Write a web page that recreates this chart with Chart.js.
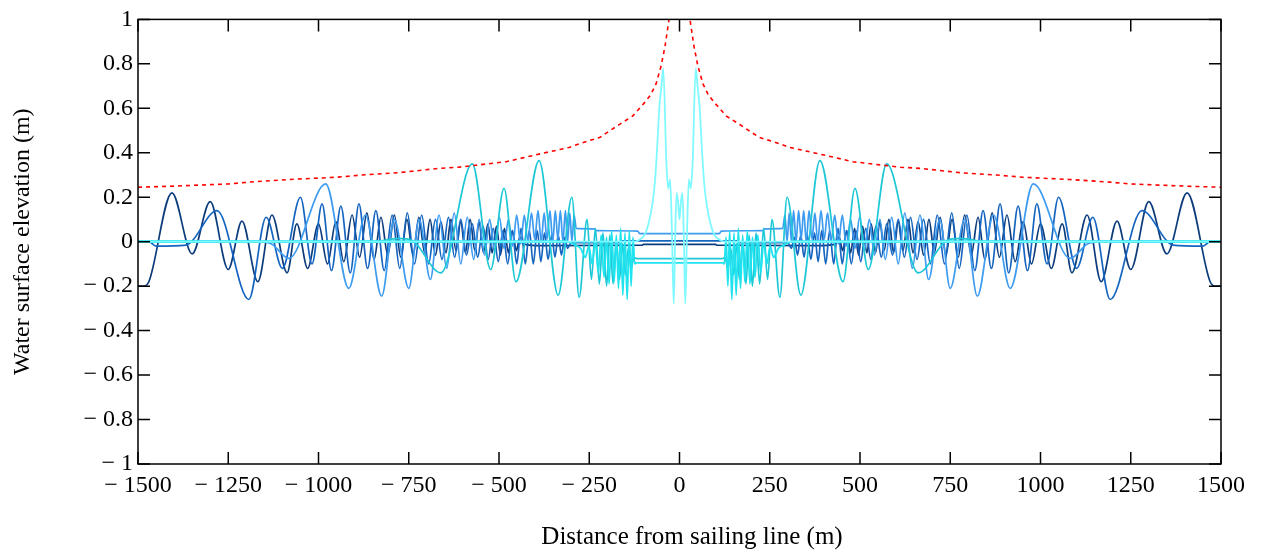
<!DOCTYPE html>
<html>
<head>
<meta charset="utf-8">
<script src="https://cdn.jsdelivr.net/npm/chart.js@4.4.1/dist/chart.umd.min.js"></script>
<style>
    html, body { margin: 0; padding: 0; background: #fff; }
    #wrap { width: 1263px; height: 552px; }
</style>
</head>
<body>
<div id="wrap"><canvas id="chart"></canvas></div>
<script>
// tick values / labels
const xTickValues = [-1500, -1250, -1000, -750, -500, -250, 0, 250, 500, 750, 1000, 1250, 1500];
const xTickLabels = ["\u2212 1500", "\u2212 1250", "\u2212 1000", "\u2212 750", "\u2212 500", "\u2212 250", "0", "250", "500", "750", "1000", "1250", "1500"];
const yTickValues = [-1, -0.8, -0.6, -0.4, -0.2, 0, 0.2, 0.4, 0.6, 0.8, 1];
const yTickLabels = ["\u2212 1", "\u2212 0.8", "\u2212 0.6", "\u2212 0.4", "\u2212 0.2", "0", "0.2", "0.4", "0.6", "0.8", "1"];

// every series is symmetric about the sailing line, so only the x >= 0 half is listed: [distance (m), elevation (m)]
const navyHalf = [
    [0, -0.012], [100, -0.012], [104, -0.016], [380, -0.018], [430, -0.012],
    [442, 0.02], [452, -0.04], [463, 0.05], [474, -0.05], [485, 0.06], [496, -0.06], [507, 0.07], [519, -0.05],
    [531, 0.08], [543, -0.05], [555, 0.09], [567, -0.04], [580, 0.1], [593, -0.05], [606, 0.09], [619, -0.04],
    [633, 0.1], [647, -0.05], [661, 0.09], [676, -0.06], [691, 0.1], [706, -0.05], [722, 0.11], [738, -0.06],
    [755, 0.1], [772, -0.07], [790, 0.12], [808, -0.06], [827, 0.11], [846, -0.08], [866, 0.13], [886, -0.07],
    [907, 0.12], [930, -0.09], [952, 0.09], [975, -0.1], [1000, 0.08], [1030, -0.12], [1060, 0.08], [1087, -0.14],
    [1129, 0.12], [1168, -0.18], [1212, 0.093], [1250, -0.125], [1300, 0.18], [1350, -0.055], [1406, 0.22],
    [1470, -0.18], [1485, -0.2], [1500, -0.2]
];
const blueHalf = [
    [0, 0.004], [160, 0.004], [166, -0.004], [300, -0.004],
    [310, -0.03], [318, 0.02], [327, -0.06], [336, 0.03], [345, -0.07], [354, 0.03], [364, -0.08], [374, 0.04],
    [384, -0.09], [394, 0.05], [405, -0.1], [416, 0.05], [427, -0.1], [439, 0.06], [451, -0.1], [463, 0.05],
    [476, -0.1], [489, 0.05], [502, -0.09], [516, 0.06], [530, -0.08], [544, 0.07], [559, -0.07], [574, 0.08],
    [590, -0.06], [606, 0.1], [623, -0.07], [640, 0.11], [658, -0.08], [676, 0.1], [695, -0.1], [714, 0.12],
    [734, -0.1], [754, 0.13], [775, -0.12], [796, 0.12], [818, -0.13], [841, 0.14], [864, -0.12], [888, 0.17],
    [912, -0.14], [938, 0.16], [964, -0.13], [990, 0.17], [1018, -0.1], [1050, 0.2], [1100, -0.12], [1145, 0.11],
    [1193, -0.26], [1281, 0.14], [1367, -0.015], [1450, -0.02], [1470, 0], [1500, 0]
];
const lightBlueHalf = [
    [0, 0.036], [110, 0.036], [116, 0.048], [230, 0.05], [236, 0.058], [286, 0.06],
    [292, 0.12], [298, 0.0], [304, 0.13], [310, 0.0], [316, 0.14], [323, 0.0], [330, 0.14], [337, 0.01],
    [344, 0.14], [351, 0.0], [359, 0.14], [367, 0.01], [375, 0.13], [383, 0.0], [392, 0.14], [401, 0.01],
    [410, 0.13], [420, 0.0], [430, 0.12], [440, -0.01], [451, 0.12], [462, -0.02], [474, 0.1], [486, -0.03],
    [499, 0.11], [512, -0.04], [526, 0.1], [540, -0.06], [555, 0.1], [570, -0.08], [588, 0.11], [606, -0.1],
    [624, 0.13], [645, -0.12], [666, 0.12], [690, -0.17], [721, 0.1], [750, -0.21], [790, 0.1], [825, -0.245],
    [870, 0.12], [916, -0.21], [980, 0.26], [1082, -0.075], [1130, -0.01], [1165, 0], [1500, 0]
];
const turquoiseHalf = [
    [0, -0.076], [118, -0.076], [126, -0.07], [134, -0.12], [142, -0.03], [150, -0.15], [158, -0.01], [166, -0.17],
    [175, 0.01], [184, -0.19], [193, 0.03], [202, -0.2], [212, 0.04], [222, -0.19], [233, 0.06], [244, -0.17],
    [256, 0.1], [278, -0.25], [298, 0.2], [336, -0.24], [389, 0.365], [453, -0.18], [486, 0.24], [523, -0.125],
    [574, 0.35], [661, -0.14], [740, 0.005], [777, 0.015], [852, 0], [1500, 0]
];
const cyanHalf = [
    [0, -0.095], [120, -0.095], [124, -0.1], [129, 0.02], [134, -0.2], [139, 0.05], [145, -0.26], [151, 0.04],
    [157, -0.24], [163, 0.06], [169, -0.21], [175, 0.03], [181, -0.18], [188, 0.05], [195, -0.19], [202, 0.02],
    [209, -0.16], [217, 0.03], [225, -0.14], [233, 0.0], [242, -0.1], [251, -0.02], [261, -0.07], [274, -0.03],
    [290, -0.015], [310, 0], [1500, 0]
];
const paleCyanHalf = [
    [0, 0.1], [4, 0.18], [8, 0.22], [12, 0.02], [16, -0.28], [21, 0.05], [26, 0.28], [31, 0.24], [36, 0.34],
    [45, 0.78], [50, 0.7], [56, 0.6], [62, 0.42], [68, 0.27], [75, 0.17], [86, 0.08], [97, 0.03], [110, 0.01],
    [125, 0], [1500, 0]
];
const envelopeHalf = [
    [20, 1.1], [29, 1.0], [40, 0.88], [51, 0.79], [65, 0.71], [80, 0.66], [100, 0.62], [130, 0.565], [167, 0.527],
    [220, 0.47], [278, 0.44], [306, 0.424], [400, 0.39], [480, 0.36], [564, 0.344], [612, 0.335], [666, 0.33],
    [780, 0.31], [879, 0.3], [950, 0.29], [1080, 0.28], [1193, 0.268], [1248, 0.26], [1400, 0.25], [1500, 0.245]
];

// builds the full -1500..1500 series from one half
const mirror = (half) => {
    const left = half.filter(p => p[0] > 0).slice().reverse().map(p => ({ x: -p[0], y: p[1] }));
    const right = half.map(p => ({ x: p[0], y: p[1] }));
    return left.concat(right);
};

const SERIF = '"Liberation Serif", "Times New Roman", serif';
const TICK = 12;

// box round the plot with inward ticks on all four sides
const frameTicks = {
    id: "frameTicks",
    afterDatasetsDraw(chart) {
        const { ctx, chartArea: a, scales } = chart;
        ctx.save();
        ctx.strokeStyle = "#000";
        ctx.lineWidth = 1.5;
        ctx.beginPath();
        xTickValues.forEach(v => {
            const px = scales.x.getPixelForValue(v);
            ctx.moveTo(px, a.bottom); ctx.lineTo(px, a.bottom - TICK);
            ctx.moveTo(px, a.top); ctx.lineTo(px, a.top + TICK);
        });
        yTickValues.forEach(v => {
            const py = scales.y.getPixelForValue(v);
            ctx.moveTo(a.left, py); ctx.lineTo(a.left + TICK, py);
            ctx.moveTo(a.right, py); ctx.lineTo(a.right - TICK, py);
        });
        ctx.stroke();
        ctx.strokeRect(a.left, a.top, a.right - a.left, a.bottom - a.top);
        ctx.restore();
    }
};

const line = (label, half, color, extra) => Object.assign({
    label: label,
    data: mirror(half),
    borderColor: color,
    borderWidth: 1.7,
    pointRadius: 0,
    fill: false,
    cubicInterpolationMode: "monotone"
}, extra || {});

// the long flat stretch on the sailing-line level is drawn a bit heavier, as in the original
const flatZero = ctx => (ctx.p0.parsed.y === 0 && ctx.p1.parsed.y === 0 ? 2.8 : 1.8);

// first dataset is painted on top
const datasets = [
    line("Envelope", envelopeHalf, "#ff0000", { borderWidth: 1.6, borderDash: [4, 4], cubicInterpolationMode: "default", tension: 0 }),
    line("Central", paleCyanHalf, "#7ff9ff", { borderWidth: 1.8 }),
    line("Cyan", cyanHalf, "#1fe3ef", { borderWidth: 1.8, segment: { borderWidth: flatZero } }),
    line("Turquoise", turquoiseHalf, "#1cc7d6"),
    line("Light blue", lightBlueHalf, "#3d9bf0"),
    line("Blue", blueHalf, "#1565c0"),
    line("Navy", navyHalf, "#0c3c7c")
];

new Chart(document.getElementById("chart"), {
    type: "line",
    data: { datasets: datasets },
    options: {
        responsive: true,
        maintainAspectRatio: false,
        animation: false,
        layout: { padding: { top: 16, right: 42, left: 0, bottom: 0 } },
        plugins: { legend: { display: false }, tooltip: { enabled: false } },
        scales: {
            x: {
                type: "linear",
                min: -1500,
                max: 1500,
                grid: { display: false, drawTicks: false },
                border: { display: false },
                afterBuildTicks: s => { s.ticks = xTickValues.map(v => ({ value: v })); },
                afterFit: s => { s.height = 88; },
                ticks: {
                    autoSkip: false,
                    maxRotation: 0,
                    padding: 7,
                    color: "#000",
                    font: { family: SERIF, size: 24 },
                    callback: (v, i) => xTickLabels[i]
                },
                title: {
                    display: true,
                    text: "\u2003Distance from sailing line (m)",
                    color: "#000",
                    font: { family: SERIF, size: 25 },
                    padding: { top: 0, bottom: 0 }
                }
            },
            y: {
                type: "linear",
                min: -1,
                max: 1,
                grid: { display: false, drawTicks: false },
                border: { display: false },
                afterBuildTicks: s => { s.ticks = yTickValues.map(v => ({ value: v })); },
                afterFit: s => { s.width = 138; },
                ticks: {
                    padding: 5,
                    color: "#000",
                    font: { family: SERIF, size: 24 },
                    callback: (v, i) => yTickLabels[i]
                },
                title: {
                    display: true,
                    text: "Water surface elevation (m)",
                    color: "#000",
                    font: { family: SERIF, size: 24 },
                    padding: { top: 8, bottom: 0 }
                }
            }
        }
    },
    plugins: [frameTicks]
});
</script>
</body>
</html>
